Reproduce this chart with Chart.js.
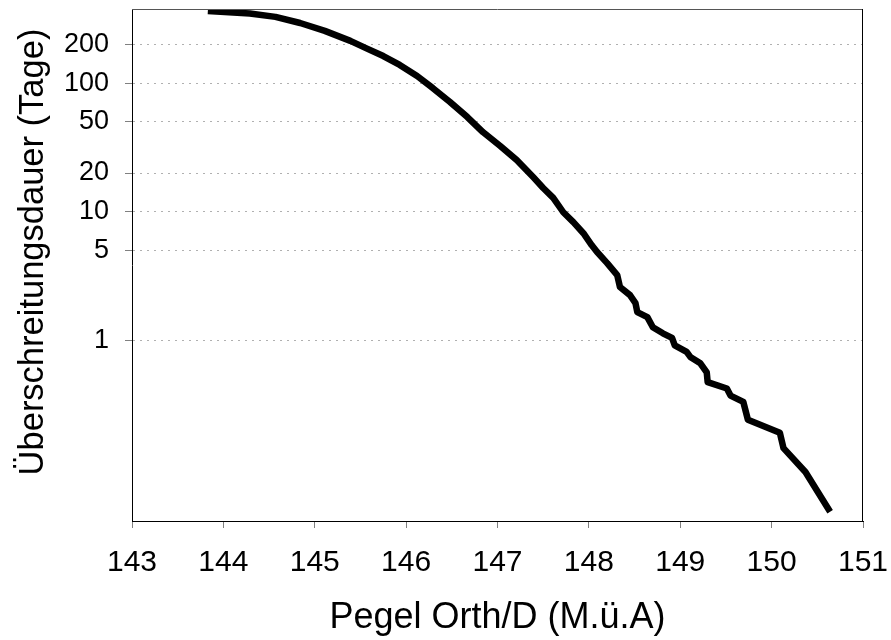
<!DOCTYPE html>
<html>
<head>
<meta charset="utf-8">
<script src="https://cdn.jsdelivr.net/npm/chart.js@4"></script>
<style>
  html,body{margin:0;padding:0;background:#fff;}
  #wrap{width:891px;height:640px;}
</style>
</head>
<body>
<div id="wrap"><canvas id="chart" width="891" height="640"></canvas></div>
<script>
// water level (m ü. A.) and days of exceedance
const pegel = [143.83,144.29,144.57,144.84,145.11,145.39,145.56,145.75,145.93,146.12,146.29,146.48,146.67,146.84,147.03,147.21,
  147.39,147.50,147.61,147.72,147.83,147.94,148.03,148.09,148.20,148.31,148.34,148.45,148.51,148.53,148.64,
  148.70,148.81,148.91,148.94,149.07,149.11,149.22,149.29,149.30,149.51,149.55,149.69,149.74,150.09,150.13,150.37,150.64];
const dauer = [365,350,329,295,256,214,188,163,139,114,92,71.5,54.6,41.7,32.5,25.3,
  18.6,15.3,12.8,9.9,8.3,6.8,5.5,4.85,3.98,3.21,2.59,2.24,1.94,1.65,1.51,
  1.26,1.13,1.04,0.91,0.81,0.74,0.66,0.56,0.47,0.42,0.37,0.33,0.24,0.19,0.144,0.094,0.046];
const yTicks = [1,5,10,20,50,100,200];
const xRange = [143,151];
const yRange = [0.039,379];
const yTitle = 'Überschreitungsdauer (Tage)';
const xTitle = 'Pegel Orth/D (M.ü.A)';

const FONT = "'Liberation Sans', Arial, sans-serif";

// frame round the plot + the y title (sits a bit above the plot centre in the original)
const framePlugin = {
  id:'frame',
  afterDraw(chart){
    const {ctx, chartArea:a} = chart;
    ctx.save();
    ctx.lineWidth = 1;
    ctx.strokeStyle = '#555';
    ctx.beginPath(); ctx.moveTo(a.left, a.top+0.5); ctx.lineTo(a.right, a.top+0.5); ctx.stroke();
    ctx.strokeStyle = '#000';
    ctx.beginPath(); ctx.moveTo(a.right-0.5, a.top); ctx.lineTo(a.right-0.5, a.bottom); ctx.stroke();

    ctx.translate(33, 252);
    ctx.rotate(-Math.PI/2);
    ctx.fillStyle = '#000';
    ctx.font = '34.5px ' + FONT;
    ctx.textAlign = 'center';
    ctx.textBaseline = 'middle';
    ctx.fillText(yTitle, 0, 0);
    ctx.restore();
  }
};

new Chart(document.getElementById('chart'), {
  type:'scatter',
  data:{ datasets:[{
    data: pegel.map((x,i)=>({x, y:dauer[i]})),
    showLine:true, borderColor:'#000', borderWidth:6.5, pointRadius:0,
    borderJoinStyle:'round', borderCapStyle:'butt', tension:0
  }]},
  options:{
    responsive:false, animation:false, devicePixelRatio:1,
    layout:{ padding:{ left:0, top:9, right:28, bottom:0 } },
    plugins:{ legend:{display:false}, tooltip:{enabled:false} },
    scales:{
      x:{
        type:'linear', min:xRange[0], max:xRange[1],
        afterFit:(s)=>{ s.height = 119; s.paddingLeft = 0; s.paddingRight = 0; },
        ticks:{ stepSize:1, color:'#000', padding:17, font:{family:FONT, size:30}, callback:(v)=>String(v) },
        grid:{ drawOnChartArea:false, tickLength:7, tickColor:'#808080' },
        border:{ color:'#000', width:1 },
        title:{ display:true, text:xTitle, color:'#000', font:{family:FONT, size:36}, padding:{top:0, bottom:0} }
      },
      y:{
        type:'logarithmic', min:yRange[0], max:yRange[1],
        afterFit:(s)=>{ s.width = 132; s.paddingTop = 0; s.paddingBottom = 0; },
        afterBuildTicks:(s)=>{ s.ticks = yTicks.map(v=>({value:v})); },
        ticks:{ color:'#000', padding:16, font:{family:FONT, size:27}, callback:(v)=>String(v) },
        grid:{ color:'#b0b0b0', lineWidth:1, tickLength:7, tickColor:'#808080', tickBorderDash:[] },
        border:{ color:'#000', width:1, dash:[2,5] },
        title:{ display:false }
      }
    }
  },
  plugins:[framePlugin]
});
</script>
</body>
</html>
